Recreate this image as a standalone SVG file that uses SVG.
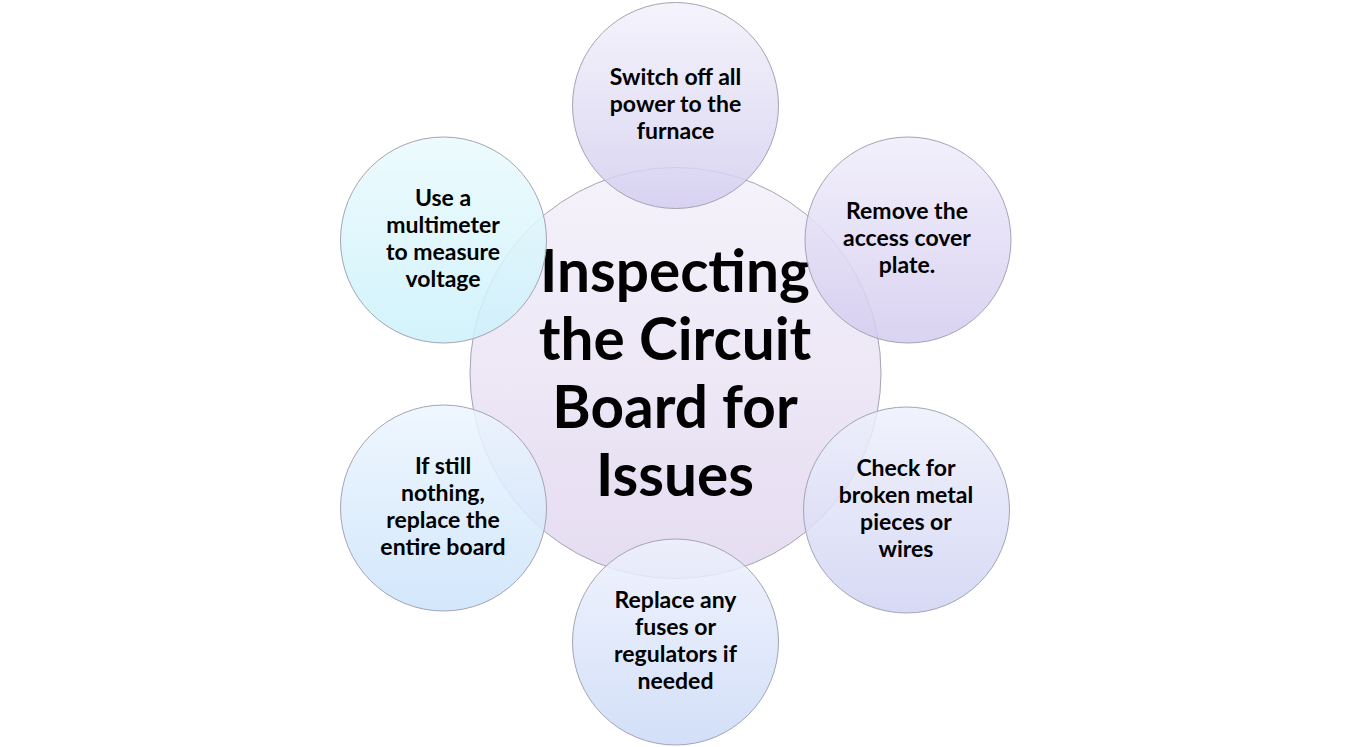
<svg xmlns="http://www.w3.org/2000/svg" width="1350" height="747" viewBox="0 0 1350 747">
<defs>
<linearGradient id="gC" x1="0" y1="0" x2="0" y2="1"><stop offset="0" stop-color="#f4f1fb" stop-opacity="0.9"/><stop offset="1" stop-color="#e2d8ef" stop-opacity="0.9"/></linearGradient>
<linearGradient id="g1" x1="0" y1="0" x2="0" y2="1"><stop offset="0" stop-color="#f3f1fb" stop-opacity="0.85"/><stop offset="1" stop-color="#d3cdef" stop-opacity="0.85"/></linearGradient>
<linearGradient id="g2" x1="0" y1="0" x2="0" y2="1"><stop offset="0" stop-color="#f0edfb" stop-opacity="0.85"/><stop offset="1" stop-color="#d3cbef" stop-opacity="0.85"/></linearGradient>
<linearGradient id="g3" x1="0" y1="0" x2="0" y2="1"><stop offset="0" stop-color="#eef0fc" stop-opacity="0.85"/><stop offset="1" stop-color="#d0d3f3" stop-opacity="0.85"/></linearGradient>
<linearGradient id="g4" x1="0" y1="0" x2="0" y2="1"><stop offset="0" stop-color="#eef1fd" stop-opacity="0.85"/><stop offset="1" stop-color="#cbdaf7" stop-opacity="0.85"/></linearGradient>
<linearGradient id="g5" x1="0" y1="0" x2="0" y2="1"><stop offset="0" stop-color="#ecf5fe" stop-opacity="0.85"/><stop offset="1" stop-color="#cbe3fb" stop-opacity="0.85"/></linearGradient>
<linearGradient id="g6" x1="0" y1="0" x2="0" y2="1"><stop offset="0" stop-color="#eafafd" stop-opacity="0.85"/><stop offset="1" stop-color="#cbf1fb" stop-opacity="0.85"/></linearGradient>
</defs>
<style>
circle{stroke:#a4a4b4;stroke-width:1}
text{font-family:Lato,"Liberation Sans",sans-serif;font-weight:bold;fill:#000;text-anchor:middle}
.s{font-size:23px}
.c{font-size:58.5px}
</style>
<rect width="1350" height="747" fill="#fff"/>
<g id="center">
<circle cx="675.5" cy="373" r="205.5" fill="url(#gC)"/>
<text class="c" x="675" y="292">Inspecting</text>
<text class="c" x="675" y="360">the Circuit</text>
<text class="c" x="675" y="428">Board for</text>
<text class="c" x="675" y="496">Issues</text>
</g>
<g id="n1">
<circle cx="675.5" cy="105.5" r="103" fill="url(#g1)"/>
<text class="s" x="675.5" y="85">Switch off all</text>
<text class="s" x="675.5" y="112">power to the</text>
<text class="s" x="675.5" y="139">furnace</text>
</g>
<g id="n2">
<circle cx="908" cy="240" r="103" fill="url(#g2)"/>
<text class="s" x="907" y="219">Remove the</text>
<text class="s" x="907" y="246">access cover</text>
<text class="s" x="907" y="273">plate.</text>
</g>
<g id="n3">
<circle cx="906.5" cy="510" r="103" fill="url(#g3)"/>
<text class="s" x="906" y="476">Check for</text>
<text class="s" x="906" y="503">broken metal</text>
<text class="s" x="906" y="530">pieces or</text>
<text class="s" x="906" y="557">wires</text>
</g>
<g id="n4">
<circle cx="675.5" cy="642" r="103" fill="url(#g4)"/>
<text class="s" x="675.5" y="608">Replace any</text>
<text class="s" x="675.5" y="635">fuses or</text>
<text class="s" x="675.5" y="662">regulators if</text>
<text class="s" x="675.5" y="689">needed</text>
</g>
<g id="n5">
<circle cx="443.5" cy="508" r="103" fill="url(#g5)"/>
<text class="s" x="443" y="474">If still</text>
<text class="s" x="443" y="501">nothing,</text>
<text class="s" x="443" y="528">replace the</text>
<text class="s" x="443" y="555">entire board</text>
</g>
<g id="n6">
<circle cx="443.5" cy="240" r="103" fill="url(#g6)"/>
<text class="s" x="443" y="206">Use a</text>
<text class="s" x="443" y="233">multimeter</text>
<text class="s" x="443" y="260">to measure</text>
<text class="s" x="443" y="287">voltage</text>
</g>
<g id="connectors"/>
</svg>
